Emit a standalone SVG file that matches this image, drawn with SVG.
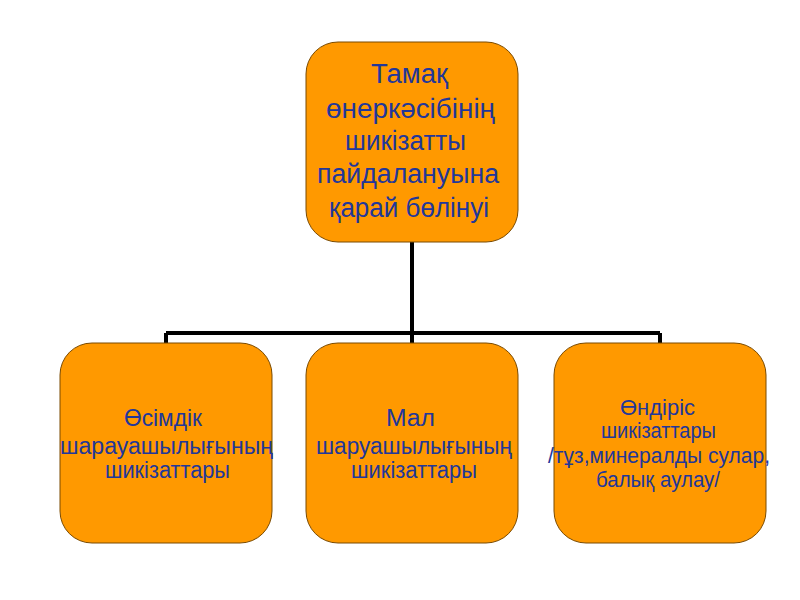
<svg xmlns="http://www.w3.org/2000/svg" width="800" height="600" viewBox="0 0 800 600">
<style>
.box{fill:#FF9900;stroke:#7a4a00;stroke-width:1}
.t{font-family:"Liberation Sans","Noto Sans",Arial,sans-serif;fill:#22379A}
.big{font-size:27px}
.mid{font-size:23px}
.sm{font-size:21.5px}
.c{stroke:#000;stroke-width:4;fill:none}
</style>
<rect width="800" height="600" fill="#fff"/>
<g id="connectors">
<path class="c" d="M412 242V333M166 333H660M166 333V343M660 333V343M412 333V343"/>
</g>
<g id="root">
<rect class="box" x="306" y="42" width="212" height="200" rx="32"/>
<text class="t big" x="371" y="83" textLength="77" lengthAdjust="spacingAndGlyphs">Тамақ</text>
<text class="t big" x="326" y="118" textLength="169" lengthAdjust="spacingAndGlyphs">өнеркәсібінің</text>
<text class="t big" x="345" y="150" textLength="121" lengthAdjust="spacingAndGlyphs">шикізатты</text>
<text class="t big" x="317" y="183" textLength="182" lengthAdjust="spacingAndGlyphs">пайдалануына</text>
<text class="t big" x="329" y="217" textLength="160" lengthAdjust="spacingAndGlyphs">қарай  бөлінуі</text>
</g>
<g id="plant">
<rect class="box" x="60" y="343" width="212" height="200" rx="32"/>
<text class="t mid" x="124" y="426" textLength="78" lengthAdjust="spacingAndGlyphs">Өсімдік</text>
<text class="t mid" x="60" y="454" textLength="213" lengthAdjust="spacingAndGlyphs">шарауашылығының</text>
<text class="t mid" x="105" y="478" textLength="125" lengthAdjust="spacingAndGlyphs">шикізаттары</text>
</g>
<g id="livestock">
<rect class="box" x="306" y="343" width="212" height="200" rx="32"/>
<text class="t mid" x="386" y="426" textLength="49" lengthAdjust="spacingAndGlyphs">Мал</text>
<text class="t mid" x="316" y="454" textLength="196" lengthAdjust="spacingAndGlyphs">шаруашылығының</text>
<text class="t mid" x="351" y="478" textLength="126" lengthAdjust="spacingAndGlyphs">шикізаттары</text>
</g>
<g id="industry">
<rect class="box" x="554" y="343" width="212" height="200" rx="32"/>
<text class="t sm" x="620" y="415" textLength="75" lengthAdjust="spacingAndGlyphs">Өндіріс</text>
<text class="t sm" x="601" y="438" textLength="115" lengthAdjust="spacingAndGlyphs">шикізаттары</text>
<text class="t sm" x="548" y="463" textLength="222" lengthAdjust="spacingAndGlyphs">/тұз,минералды  сулар,</text>
<text class="t sm" x="596" y="487" textLength="124" lengthAdjust="spacingAndGlyphs">балық аулау/</text>
</g>
</svg>
